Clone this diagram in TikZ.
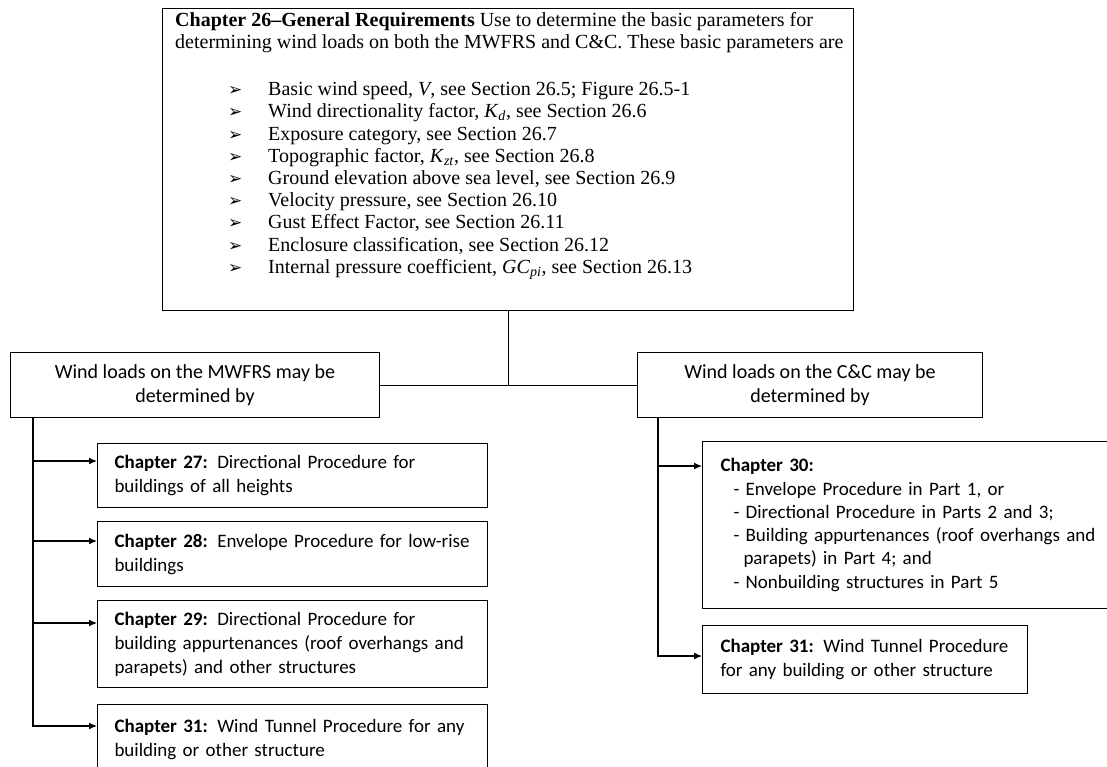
\documentclass[tikz,border=0pt]{standalone}
\usepackage{fontspec}
\setmainfont{Liberation Serif}
\newfontfamily\carlito{Carlito}
\newfontfamily\dejavu{DejaVu Sans}
\usetikzlibrary{positioning,arrows.meta}
\newcommand{\pointer}[1]{\hspace*{53pt}\makebox[40pt][l]{\dejavu\fontsize{17}{17}\selectfont ➢}#1}
\tikzstyle{frame} = [rectangle, draw, line width=1pt, anchor=north west, inner sep=0pt]
\tikzstyle{group} = [rectangle, draw, line width=1pt, anchor=north west, align=center, minimum width=369pt, minimum height=65pt, font=\carlito\fontsize{20}{24}\selectfont]
\tikzstyle{chapter} = [rectangle, draw, line width=1pt, anchor=north west, align=left, inner xsep=17pt, inner ysep=3pt, font=\carlito\fontsize{19}{24}\selectfont]
\tikzstyle{link} = [line width=1pt]
\tikzstyle{connector} = [line width=1.2pt,-{Latex[length=8pt,width=7pt]}]

\begin{document}
\begin{tikzpicture}[x=1pt, y=-1pt]
        \useasboundingbox (0,0) rectangle (1107,766);
        \node (general) [frame, minimum width=691pt, minimum height=302pt] at (162,8) {};
        \node (generaltext) [anchor=north west, align=left, inner sep=0pt, font=\fontsize{20}{22.2}\selectfont] at ([xshift=13pt, yshift=-4pt]general.north west) {\textbf{Chapter 26--General Requirements} Use to determine the basic parameters for\\
        determining wind loads on both the MWFRS and C\&C. These basic parameters are\\[25pt]
        \pointer{Basic wind speed, \textit{V}, see Section 26.5; Figure 26.5-1}\\
        \pointer{Wind directionality factor, \textit{K}\textsubscript{\textit{d}}, see Section 26.6}\\
        \pointer{Exposure category, see Section 26.7}\\
        \pointer{Topographic factor, \textit{K}\textsubscript{\textit{zt}}, see Section 26.8}\\
        \pointer{Ground elevation above sea level, see Section 26.9}\\
        \pointer{Velocity pressure, see Section 26.10}\\
        \pointer{Gust Effect Factor, see Section 26.11}\\
        \pointer{Enclosure classification, see Section 26.12}\\
        \pointer{Internal pressure coefficient, \textit{GC}\textsubscript{\textit{pi}}, see Section 26.13}};
        \node (mwfrs) [group] at (10,352) {Wind loads on the MWFRS may be\\determined by};
        \node (cc) [group, minimum width=345pt] at (637,352) {Wind loads on the C\&C may be\\determined by};
        \node (ch27) [chapter, text width=356pt, minimum height=64pt] at (97,443) {\textbf{Chapter 27:} Directional Procedure for\\buildings of all heights};
        \node (ch28) [chapter, text width=356pt, minimum height=65pt] at (97,521) {\textbf{Chapter 28:} Envelope Procedure for low-rise\\buildings};
        \node (ch29) [chapter, text width=356pt, minimum height=87pt] at (97,600) {\textbf{Chapter 29:} Directional Procedure for\\building appurtenances (roof overhangs and\\parapets) and other structures};
        \node (ch31l) [chapter, text width=356pt, minimum height=70pt] at (97,704) {\textbf{Chapter 31:} Wind Tunnel Procedure for any\\building or other structure};
        \node (ch30) [chapter, text width=377pt, inner xsep=18pt, minimum height=167pt, font=\carlito\fontsize{19}{23.3}\selectfont] at (702,441) {\textbf{Chapter 30:}\\
        \hspace*{13pt}- Envelope Procedure in Part 1, or\\
        \hspace*{13pt}- Directional Procedure in Parts 2 and 3;\\
        \hspace*{13pt}- Building appurtenances (roof overhangs and\\
        \hspace*{23pt}parapets) in Part 4; and\\
        \hspace*{13pt}- Nonbuilding structures in Part 5};
        \node (ch31r) [chapter, text width=289pt, inner xsep=18pt, minimum height=68pt] at (702,625) {\textbf{Chapter 31:} Wind Tunnel Procedure\\for any building or other structure};
        \draw [link] (general.south) |- (mwfrs.east);
        \draw [link] (general.south) |- (cc.west);
        \draw [connector] ([xshift=23pt]mwfrs.south west) |- ([yshift=-18pt]ch27.north west);
        \draw [connector] ([xshift=23pt]mwfrs.south west) |- ([yshift=-20pt]ch28.north west);
        \draw [connector] ([xshift=23pt]mwfrs.south west) |- ([yshift=-23pt]ch29.north west);
        \draw [connector] ([xshift=23pt]mwfrs.south west) |- ([yshift=-22pt]ch31l.north west);
        \draw [connector] ([xshift=21pt]cc.south west) |- ([yshift=-25pt]ch30.north west);
        \draw [connector] ([xshift=21pt]cc.south west) |- ([yshift=-31pt]ch31r.north west);
    \end{tikzpicture}
\end{document}
